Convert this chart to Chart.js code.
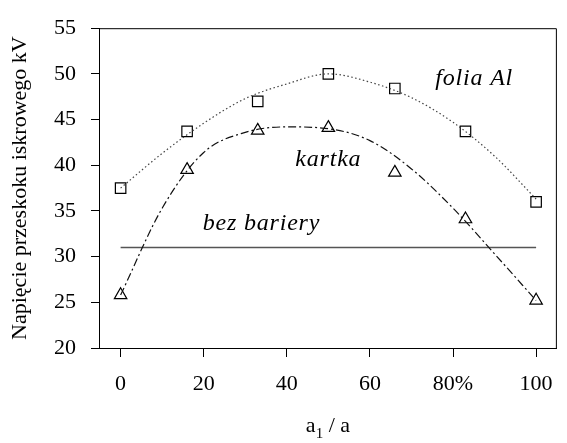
<!DOCTYPE html>
<html>
<head>
<meta charset="utf-8">
<script src="https://cdn.jsdelivr.net/npm/chart.js@4/dist/chart.umd.min.js"></script>
<style>
  html, body { margin: 0; padding: 0; background: #fff; }
  .probe { position: absolute; left: -999px; top: 0; font-family: "Liberation Serif"; }
</style>
</head>
<body>
<span class="probe">Napięcie 0123 <i>kartka</i></span>
<canvas id="chart" width="567" height="443"></canvas>
<script>
// measured points
var xPoints = [0, 16, 33, 50, 66, 83, 100];
var foliaAl = [37.5, 43.7, 47, 50, 48.4, 43.7, 36];
var kartka = [25.8, 39.5, 43.8, 44.1, 39.2, 34.1, 25.2];

// fitted curves
var foliaFitX = [0, 10, 20, 30, 40, 50, 60, 70, 80, 90, 100];
var foliaFit = [37.5, 41.3, 44.6, 47.3, 48.9, 50.0, 49.1, 47.4, 44.7, 41.0, 36.3];
var kartkaFitX = [0, 10, 20, 30, 40, 50, 60, 70, 80, 90, 100];
var kartkaFit = [25.8, 35.3, 41.4, 43.6, 44.2, 44.0, 42.7, 39.6, 35.3, 30.3, 25.2];

var bezBariery = 31;

var xTicks = [0, 20, 40, 60, 80, 100];
var yTicks = [20, 25, 30, 35, 40, 45, 50, 55];

// curve labels
var labels = [
  { text: 'folia Al', x: 85.1, y: 48.8 },
  { text: 'kartka', x: 50, y: 39.9 },
  { text: 'bez bariery', x: 33.9, y: 32.9 }
];

var serif = '"Liberation Serif", Tinos, "Times New Roman", serif';

function pts(xs, ys) {
  return xs.map(function (x, i) { return { x: x, y: ys[i] }; });
}

var frame = {
  id: 'frame',
  afterDraw: function (chart) {
    var c = chart.ctx, a = chart.chartArea;
    var xs = chart.scales.x, ys = chart.scales.y;
    c.save();
    c.strokeStyle = '#000';
    c.lineWidth = 1;
    c.beginPath();
    c.moveTo(a.left, a.top + 0.5);
    c.lineTo(a.right - 0.5, a.top + 0.5);
    c.lineTo(a.right - 0.5, a.bottom);
    c.stroke();

    // curve labels
    c.fillStyle = '#000';
    c.font = 'italic 24px ' + serif;
    c.letterSpacing = '0.8px';
    c.textAlign = 'center';
    c.textBaseline = 'alphabetic';
    labels.forEach(function (l) {
      c.fillText(l.text, xs.getPixelForValue(l.x), ys.getPixelForValue(l.y));
    });

    // x axis title a1 / a
    c.letterSpacing = '0px';
    c.textAlign = 'left';
    var cx = (a.left + a.right) / 2, by = 432;
    c.font = '22px ' + serif;
    var w1 = c.measureText('a').width;
    c.font = '15px ' + serif;
    var w2 = c.measureText('1').width;
    c.font = '22px ' + serif;
    var w3 = c.measureText(' / a').width;
    var x0 = cx - (w1 + w2 + w3) / 2;
    c.fillText('a', x0, by);
    c.font = '15px ' + serif;
    c.fillText('1', x0 + w1, by + 6);
    c.font = '22px ' + serif;
    c.fillText(' / a', x0 + w1 + w2, by);
    c.restore();
  }
};

function draw() {
  Chart.defaults.font.family = serif;
  Chart.defaults.color = '#000';
  var ctx = document.getElementById('chart').getContext('2d');
  new Chart(ctx, {
    type: 'scatter',
    data: {
      datasets: [
        {
          data: pts(foliaFitX, foliaFit),
          showLine: true,
          borderColor: '#444',
          borderWidth: 1.2,
          borderDash: [1.5, 2.5],
          pointRadius: 0,
          cubicInterpolationMode: 'monotone'
        },
        {
          data: pts(kartkaFitX, kartkaFit),
          showLine: true,
          borderColor: '#111',
          borderWidth: 1.2,
          borderDash: [8, 3, 2, 3],
          pointRadius: 0,
          cubicInterpolationMode: 'monotone'
        },
        {
          data: pts([xPoints[0], xPoints[xPoints.length - 1]], [bezBariery, bezBariery]),
          showLine: true,
          borderColor: '#555',
          borderWidth: 1.6,
          pointRadius: 0
        },
        {
          data: pts(xPoints, foliaAl),
          pointStyle: 'rect',
          pointRadius: 7.4,
          borderColor: '#000',
          backgroundColor: 'rgba(0,0,0,0)',
          borderWidth: 1.2
        },
        {
          data: pts(xPoints, kartka),
          pointStyle: 'triangle',
          pointRadius: 7.2,
          borderColor: '#000',
          backgroundColor: 'rgba(0,0,0,0)',
          borderWidth: 1.2
        }
      ]
    },
    options: {
      responsive: false,
      animation: false,
      layout: { padding: { top: 18, right: 2, left: 0, bottom: 0 } },
      plugins: { legend: { display: false }, tooltip: { enabled: false } },
      scales: {
        x: {
          type: 'linear',
          min: -5.2,
          max: 105,
          afterBuildTicks: function (s) { s.ticks = xTicks.map(function (v) { return { value: v }; }); },
          afterFit: function (s) { s.height = 95; },
          grid: { drawOnChartArea: false, tickLength: 9, color: '#000' },
          border: { color: '#000', width: 1 },
          ticks: {
            font: { size: 22, family: serif },
            padding: 14,
            callback: function (v) { return v === 80 ? '80%' : v; }
          }
        },
        y: {
          min: 20,
          max: 55,
          afterBuildTicks: function (s) { s.ticks = yTicks.map(function (v) { return { value: v }; }); },
          afterFit: function (s) { s.width = 99; },
          grid: { drawOnChartArea: false, tickLength: 8, color: '#000' },
          border: { color: '#000', width: 1 },
          ticks: { font: { size: 22, family: serif }, padding: 15 },
          title: {
            display: true,
            text: 'Napięcie przeskoku iskrowego kV',
            font: { size: 22, family: serif },
            padding: { top: 7, bottom: 0 }
          }
        }
      }
    },
    plugins: [frame]
  });
}

Promise.all([
  document.fonts.load('22px "Liberation Serif"'),
  document.fonts.load('italic 24px "Liberation Serif"')
]).then(draw, draw);
</script>
</body>
</html>
